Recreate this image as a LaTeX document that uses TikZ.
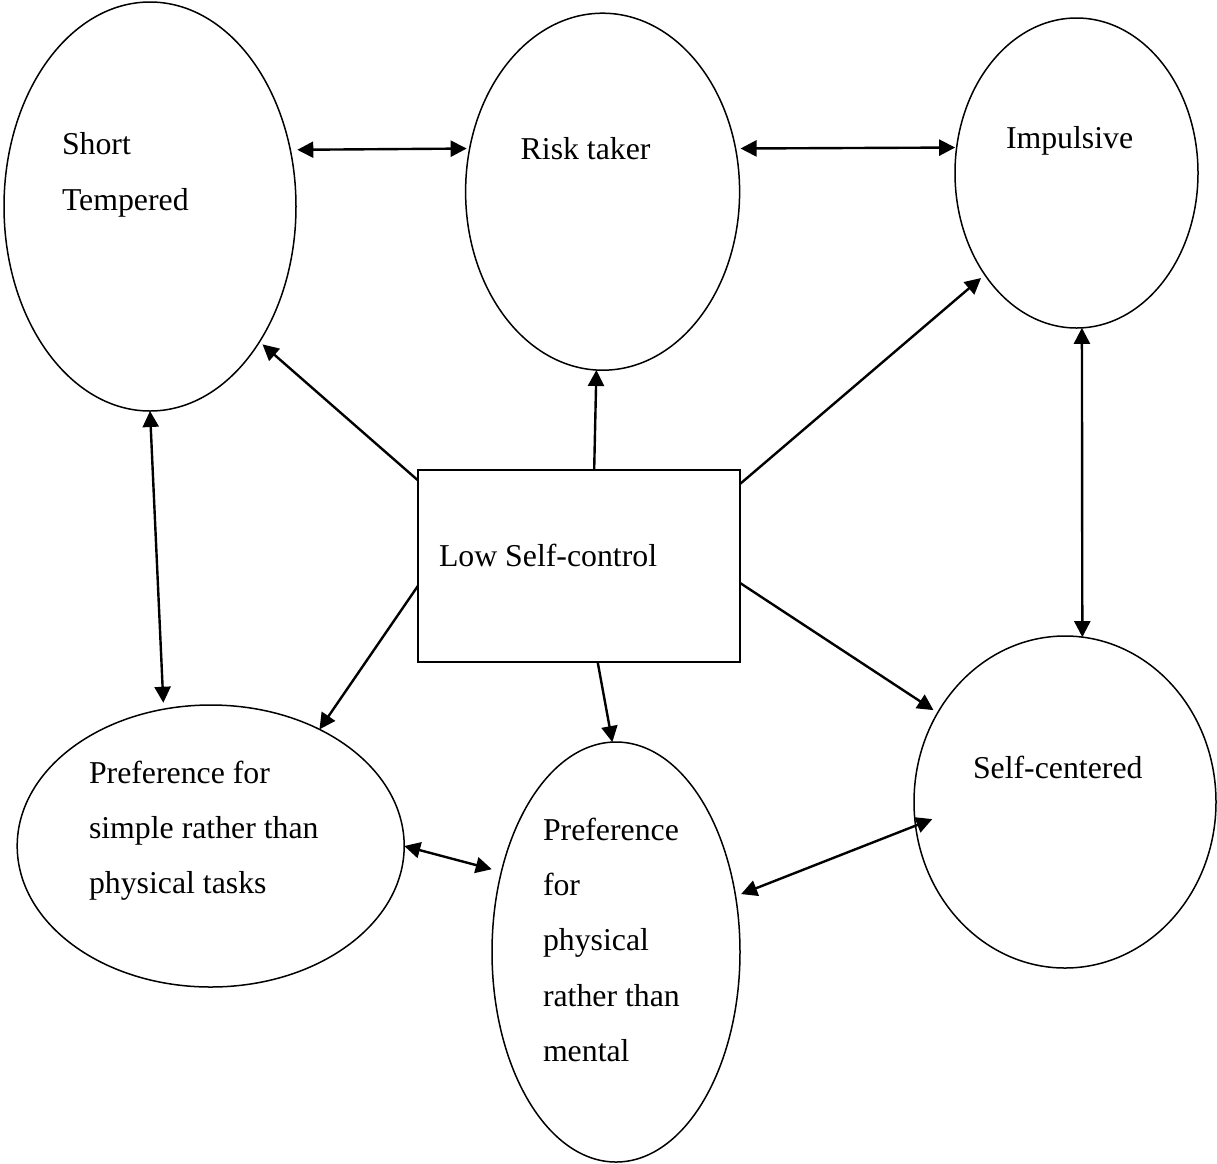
\documentclass[tikz,border=0pt]{standalone}
\usepackage{fontspec}
\setmainfont{Liberation Serif}
\usetikzlibrary{shapes.geometric,arrows.meta}
\begin{document}
\begin{tikzpicture}[x=1pt,y=-1pt,
  oval/.style={draw,ellipse,line width=1.5pt,inner sep=0pt,outer sep=0pt},
  boxnode/.style={draw,rectangle,line width=2pt,inner sep=0pt,outer sep=0pt,minimum width=322pt,minimum height=191.5pt},
  lbl/.style={anchor=base west,inner sep=0pt,outer sep=0pt,font=\fontsize{31.8}{38}\selectfont},
  link/.style={line width=2.4pt,-{Triangle[length=16pt,width=16pt]}},
  both/.style={line width=2.4pt,{Triangle[length=16pt,width=16pt]}-{Triangle[length=16pt,width=16pt]}}]

\path[use as bounding box,fill=white] (0,0) rectangle (1217,1163);

% shapes
\node[oval,minimum width=292pt,minimum height=409pt] (short) at (150,206.5) {};
\node[oval,minimum width=274pt,minimum height=357pt] (risk) at (602.6,191.7) {};
\node[oval,minimum width=243pt,minimum height=310pt] (imp) at (1076.5,173) {};
\node[oval,minimum width=302pt,minimum height=332pt] (self) at (1065,802) {};
\node[oval,minimum width=387pt,minimum height=282pt] (simple) at (210.7,846) {};
\node[oval,minimum width=248pt,minimum height=420pt] (phys) at (616,952) {};
\node[boxnode] (box) at (579,566) {};

% texts
\node[lbl] (t1a) at (62,154.3) {Short};
\node[lbl] (t1b) at (62,210) {Tempered};
\node[lbl] (t2) at (520.7,159.3) {Risk taker};
\node[lbl] (t3) at (1006,148) {Impulsive};
\node[lbl] (t4) at (439,566) {Low Self-control};
\node[lbl] (t5) at (973,778) {Self-centered};
\node[lbl] (t6a) at (89,783.3) {Preference for};
\node[lbl] (t6b) at (89,838.3) {simple rather than};
\node[lbl] (t6c) at (89,893.3) {physical tasks};
\node[lbl] (t7a) at (543,840) {Preference};
\node[lbl] (t7b) at (543,895) {for};
\node[lbl] (t7c) at (543,950.5) {physical};
\node[lbl] (t7d) at (543,1006) {rather than};
\node[lbl] (t7e) at (543,1061) {mental};

% connectors
\draw[both,shorten <=7pt,shorten >=3pt] (short.22.7) -- (risk.162.6);
\draw[both,shorten <=5pt,shorten >=1.5pt] (risk.18.2) -- (imp.168.2);
\draw[link,shorten >=4pt] (box.152.8) -- (short.-51.7);
\draw[link] (box.81.1) -- (risk.-92.1);
\draw[link,shorten >=5pt] (box.27.3) -- (imp.-132.3);
\draw[link] (box.-173) -- (simple.47.1);
\draw[link] (box.-79.9) -- (phys.91.6);
\draw[link,shorten >=5pt] (box.-6.7) -- (self.145.9);
\draw[both,shorten >=6.5pt] (short.-90.6) -- (simple.109.5);
\draw[both] (imp.-88.7) -- (self.84.8);
\draw[both,shorten >=10pt] (simple.0) -- (phys.145.2);
\draw[both,shorten <=6pt,shorten >=-18pt] (phys.25.5) -- (self.-171.1);
\end{tikzpicture}
\end{document}
